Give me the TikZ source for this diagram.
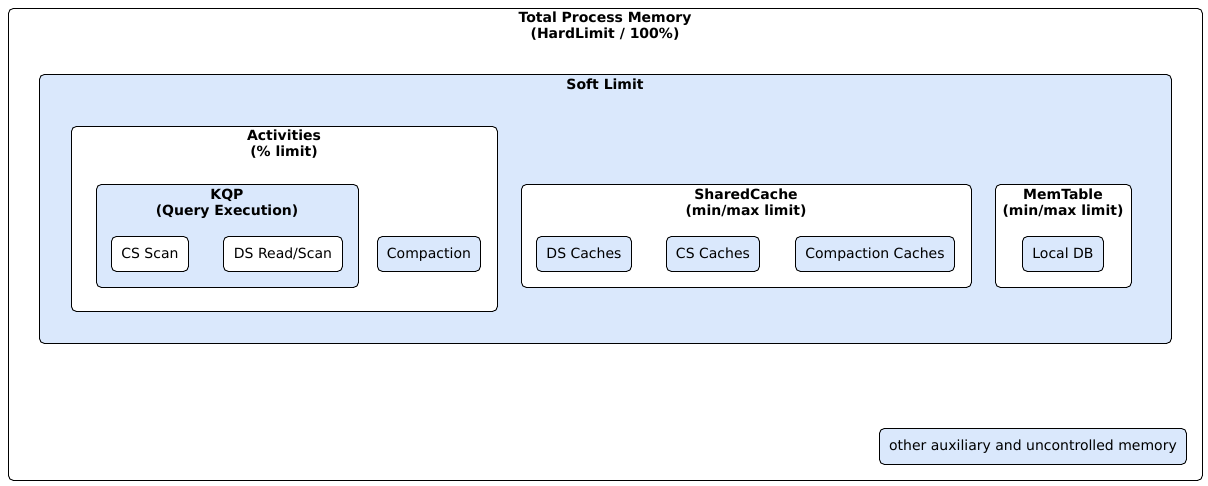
\documentclass[tikz,border=0pt]{standalone}
\usepackage{fontspec}
\setmainfont{DejaVu Sans}
\definecolor{lblue}{HTML}{DAE8FC}
\begin{document}
\begin{tikzpicture}[x=1pt,y=-1pt,
  box/.style={draw=black,line width=0.9pt,rounded corners=5pt,anchor=north west,inner sep=0pt},
  wbox/.style={box,fill=white},
  bbox/.style={box,fill=lblue},
  ttl/.style={anchor=north,inner sep=0pt,align=center,font=\fontsize{14}{16.5}\selectfont\bfseries},
  lbl/.style={font=\fontsize{14}{16.5}\selectfont,inner sep=0pt,text height=11pt,text depth=2pt}]
\useasboundingbox (0,0) rectangle (1208,485);
% outer
\node[wbox,minimum width=1194pt,minimum height=472pt] (total) at (8,8) {};
\node[ttl] (totalt) at (605,11.5) {Total Process Memory\\(HardLimit / 100\%)};
% soft limit
\node[bbox,minimum width=1132pt,minimum height=269pt] (soft) at (39,74) {};
\node[ttl] (softt) at (605,78.5) {Soft Limit};
% activities
\node[wbox,minimum width=426pt,minimum height=185pt] (act) at (71,126) {};
\node[ttl] (actt) at (284,129.5) {Activities\\(\% limit)};
% KQP
\node[bbox,minimum width=262pt,minimum height=103pt] (kqp) at (96,184) {};
\node[ttl] (kqpt) at (227,188.5) {KQP\\(Query Execution)};
\node[wbox,minimum width=77pt,minimum height=35pt] (cs) at (111,236) {};
\node[lbl] at (cs.center) {CS Scan};
\node[wbox,minimum width=119pt,minimum height=35pt] (ds) at (223,236) {};
\node[lbl] at (ds.center) {DS Read/Scan};
\node[bbox,minimum width=103pt,minimum height=35pt] (comp) at (377,236) {};
\node[lbl] at (comp.center) {Compaction};
% SharedCache
\node[wbox,minimum width=450pt,minimum height=103pt] (sc) at (521,184) {};
\node[ttl] (sct) at (746,188.5) {SharedCache\\(min/max limit)};
\node[bbox,minimum width=95pt,minimum height=35pt] (dsc) at (536,236) {};
\node[lbl] at (dsc.center) {DS Caches};
\node[bbox,minimum width=93pt,minimum height=35pt] (csc) at (666,236) {};
\node[lbl] at (csc.center) {CS Caches};
\node[bbox,minimum width=159pt,minimum height=35pt] (cc) at (795,236) {};
\node[lbl] at (cc.center) {Compaction Caches};
% MemTable
\node[wbox,minimum width=136pt,minimum height=103pt] (mt) at (995,184) {};
\node[ttl] (mtt) at (1063,188.5) {MemTable\\(min/max limit)};
\node[bbox,minimum width=81pt,minimum height=35pt] (ldb) at (1022,236) {};
\node[lbl] at (ldb.center) {Local DB};
% other
\node[bbox,minimum width=307pt,minimum height=36pt] (oth) at (879,428) {};
\node[lbl] at (oth.center) {other auxiliary and uncontrolled memory};
\end{tikzpicture}
\end{document}
